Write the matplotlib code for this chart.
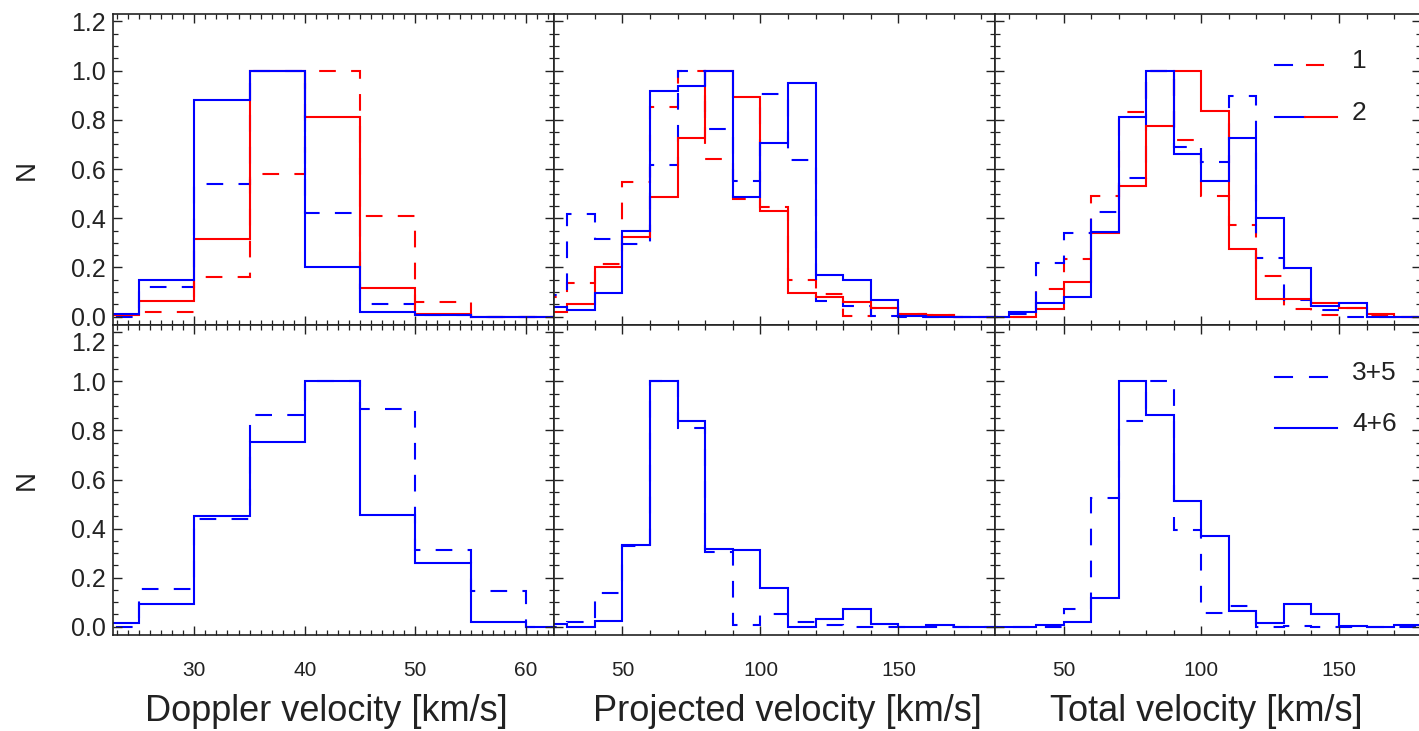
import numpy as np
import matplotlib
matplotlib.use("Agg")
import matplotlib.pyplot as plt
from matplotlib.ticker import MultipleLocator, FormatStrFormatter

plt.rcParams['font.family'] = ['Liberation Sans', 'DejaVu Sans']
plt.rcParams['lines.scale_dashes'] = False

BLUE = '#0000ff'
RED = '#ff0000'
INK = '#222222'

# ---- bin edges ----
dop_edges = [20, 25, 30, 35, 40, 45, 50, 55, 60, 65]
vel_edges = [20, 30, 40, 50, 60, 70, 80, 90, 100, 110, 120, 130, 140, 150, 160, 170, 180, 190]

# ---- Doppler velocity, top row (regions 1 dashed, 2 solid) ----
dop_top_dash_blue = [0.0, 0.12, 0.54, 1.0, 0.42, 0.05, 0.005, 0.0, 0.0]
dop_top_dash_red = [0.007, 0.02, 0.16, 0.58, 1.0, 0.41, 0.06, 0.0, 0.0]
dop_top_solid_blue = [0.01, 0.15, 0.88, 1.0, 0.20, 0.02, 0.007, 0.0, 0.0]
dop_top_solid_red = [0.005, 0.065, 0.315, 1.0, 0.81, 0.115, 0.01, 0.0, 0.0]
# ---- Doppler velocity, bottom row (3+5 dashed, 4+6 solid) ----
dop_bot_dash = [0.0, 0.152, 0.437, 0.865, 1.0, 0.887, 0.311, 0.145, 0.0]
dop_bot_solid = [0.016, 0.094, 0.451, 0.753, 1.0, 0.455, 0.258, 0.018, 0.0]

# ---- Projected velocity ----
proj_top_dash_blue = [0.088, 0.418, 0.316, 0.296, 0.616, 1.0, 0.764, 0.553, 0.905,
                      0.638, 0.065, 0.043, 0.003, 0.0, 0.0, 0.0, 0.0]
proj_top_dash_red = [0.081, 0.138, 0.215, 0.549, 0.85, 1.0, 0.639, 0.48, 0.446,
                     0.149, 0.09, 0.003, 0.036, 0.01, 0.005, 0.0, 0.0]
proj_top_solid_blue = [0.04, 0.027, 0.097, 0.35, 0.919, 0.936, 1.0, 0.486, 0.704,
                       0.95, 0.169, 0.149, 0.068, 0.003, 0.0, 0.0, 0.0]
proj_top_solid_red = [0.018, 0.051, 0.20, 0.324, 0.486, 0.727, 1.0, 0.892, 0.43,
                      0.095, 0.078, 0.061, 0.034, 0.012, 0.007, 0.0, 0.0]
proj_bot_dash = [0.0, 0.018, 0.139, 0.33, 1.0, 0.808, 0.306, 0.007, 0.052,
                 0.018, 0.007, 0.0, 0.0, 0.0, 0.0, 0.0, 0.0]
proj_bot_solid = [0.01, 0.0, 0.024, 0.334, 1.0, 0.84, 0.315, 0.313, 0.158,
                  0.0, 0.033, 0.071, 0.011, 0.0, 0.007, 0.0, 0.0]

# ---- Total velocity ----
tot_top_dash_blue = [0.0, 0.01, 0.219, 0.34, 0.424, 0.564, 1.0, 0.688, 0.63,
                     0.895, 0.239, 0.068, 0.028, 0.0, 0.0, 0.0, 0.0]
tot_top_dash_red = [0.0, 0.0, 0.112, 0.236, 0.489, 0.831, 1.0, 0.716, 0.492,
                    0.374, 0.166, 0.031, 0.005, 0.034, 0.005, 0.0, 0.0]
tot_top_solid_blue = [0.0, 0.02, 0.057, 0.08, 0.345, 0.811, 1.0, 0.662, 0.551,
                      0.727, 0.40, 0.199, 0.043, 0.054, 0.0, 0.0, 0.0]
tot_top_solid_red = [0.0, 0.0, 0.032, 0.142, 0.341, 0.531, 0.773, 1.0, 0.834,
                     0.274, 0.072, 0.072, 0.054, 0.034, 0.011, 0.0, 0.0]
tot_bot_dash = [0.0, 0.0, 0.0, 0.073, 0.523, 0.84, 1.0, 0.394, 0.057,
                0.086, 0.0, 0.004, 0.0, 0.0, 0.0, 0.0, 0.0]
tot_bot_solid = [0.0, 0.0, 0.008, 0.02, 0.117, 1.0, 0.865, 0.512, 0.37,
                 0.065, 0.016, 0.094, 0.052, 0.004, 0.0, 0.006, 0.0]

xlabels = ["Doppler velocity [km/s]", "Projected velocity [km/s]", "Total velocity [km/s]"]
legend_top = ["1", "2"]
legend_bot = ["3+5", "4+6"]

DASH = (0, (12, 11))
LW = 1.5

W, H = 1419, 731
fig = plt.figure(figsize=(W / 100, H / 100), dpi=100)

# panel boundaries in pixels
xb = [112.5, 553.5, 995, 1421]
yb = [14, 325, 635]
xlims = [(22.6, 62.5), (25, 185), (25, 179.8)]
ylim = (-0.034, 1.23)

axes = [[None] * 3 for _ in range(2)]
for r in range(2):
    for c in range(3):
        rect = [xb[c] / W, 1 - yb[r + 1] / H, (xb[c + 1] - xb[c]) / W, (yb[r + 1] - yb[r]) / H]
        ax = fig.add_axes(rect)
        ax.set_xlim(*xlims[c])
        ax.set_ylim(*ylim)
        for sp in ax.spines.values():
            sp.set_linewidth(1.2)
            sp.set_color(INK)
        ax.yaxis.set_major_locator(MultipleLocator(0.2))
        ax.yaxis.set_minor_locator(MultipleLocator(0.05))
        if c == 0:
            ax.xaxis.set_major_locator(MultipleLocator(10))
            ax.xaxis.set_minor_locator(MultipleLocator(1))
        else:
            ax.xaxis.set_major_locator(MultipleLocator(50))
            ax.xaxis.set_minor_locator(MultipleLocator(10))
        ax.tick_params(which='both', direction='in', top=True, right=True, colors=INK)
        ax.tick_params(which='major', length=6.5, width=1.0)
        ax.tick_params(which='minor', length=3.6, width=0.9)
        ax.tick_params(axis='x', labelsize=15, pad=19)
        ax.tick_params(axis='y', labelsize=18, pad=5)
        ax.yaxis.set_major_formatter(FormatStrFormatter('%.1f'))
        if r == 0:
            ax.tick_params(axis='x', labelbottom=False)
        else:
            ax.set_xlabel(xlabels[c], fontsize=26, color=INK)
        if c != 0:
            ax.tick_params(axis='y', labelleft=False)
        else:
            ax.set_ylabel("N", fontsize=20, color=INK)
            ax.yaxis.set_label_coords(-0.165, 0.5)
        axes[r][c] = ax

xlabel_x = [0.484, 0.531, 0.497]
for c in range(3):
    axes[1][c].xaxis.set_label_coords(xlabel_x[c], -0.19)


def step(ax, edges, vals, color, dashed):
    ax.stairs(vals, edges, baseline=None, color=color, lw=LW,
              linestyle=DASH if dashed else '-')


panels_top = [
    (dop_edges, dop_top_dash_blue, dop_top_dash_red, dop_top_solid_blue, dop_top_solid_red),
    (vel_edges, proj_top_dash_blue, proj_top_dash_red, proj_top_solid_blue, proj_top_solid_red),
    (vel_edges, tot_top_dash_blue, tot_top_dash_red, tot_top_solid_blue, tot_top_solid_red),
]
for c, (edges, db, dr, sb, sr) in enumerate(panels_top):
    ax = axes[0][c]
    step(ax, edges, dr, RED, True)
    step(ax, edges, db, BLUE, True)
    step(ax, edges, sr, RED, False)
    step(ax, edges, sb, BLUE, False)

panels_bot = [
    (dop_edges, dop_bot_dash, dop_bot_solid),
    (vel_edges, proj_bot_dash, proj_bot_solid),
    (vel_edges, tot_bot_dash, tot_bot_solid),
]
for c, (edges, d, s) in enumerate(panels_bot):
    ax = axes[1][c]
    step(ax, edges, d, BLUE, True)
    step(ax, edges, s, BLUE, False)

# ---- hand drawn legends (axes fraction) ----
ax = axes[0][2]
tr = ax.transAxes
ax.plot([0.657, 0.697], [0.836, 0.836], color=BLUE, lw=LW, transform=tr)
ax.plot([0.732, 0.770], [0.836, 0.836], color=RED, lw=LW, transform=tr)
ax.plot([0.657, 0.728], [0.669, 0.669], color=BLUE, lw=LW, transform=tr)
ax.plot([0.728, 0.803], [0.669, 0.669], color=RED, lw=LW, transform=tr)
ax.text(0.838, 0.849, legend_top[0], transform=tr, fontsize=19, va='center', color=INK)
ax.text(0.838, 0.682, legend_top[1], transform=tr, fontsize=19, va='center', color=INK)

ax = axes[1][2]
tr = ax.transAxes
ax.plot([0.657, 0.697], [0.832, 0.832], color=BLUE, lw=LW, transform=tr)
ax.plot([0.739, 0.779], [0.832, 0.832], color=BLUE, lw=LW, transform=tr)
ax.plot([0.657, 0.803], [0.668, 0.668], color=BLUE, lw=LW, transform=tr)
ax.text(0.838, 0.845, legend_bot[0], transform=tr, fontsize=19, va='center', color=INK)
ax.text(0.838, 0.681, legend_bot[1], transform=tr, fontsize=19, va='center', color=INK)

# keep the bottom-row "1.2" label just under its tick so it clears the "0.0" above
fig.canvas.draw()
for tick in axes[1][0].yaxis.get_major_ticks():
    if abs(tick.get_loc() - 1.2) < 1e-6:
        tick.label1.set_va('top')

fig.savefig("out.png", dpi=100)
